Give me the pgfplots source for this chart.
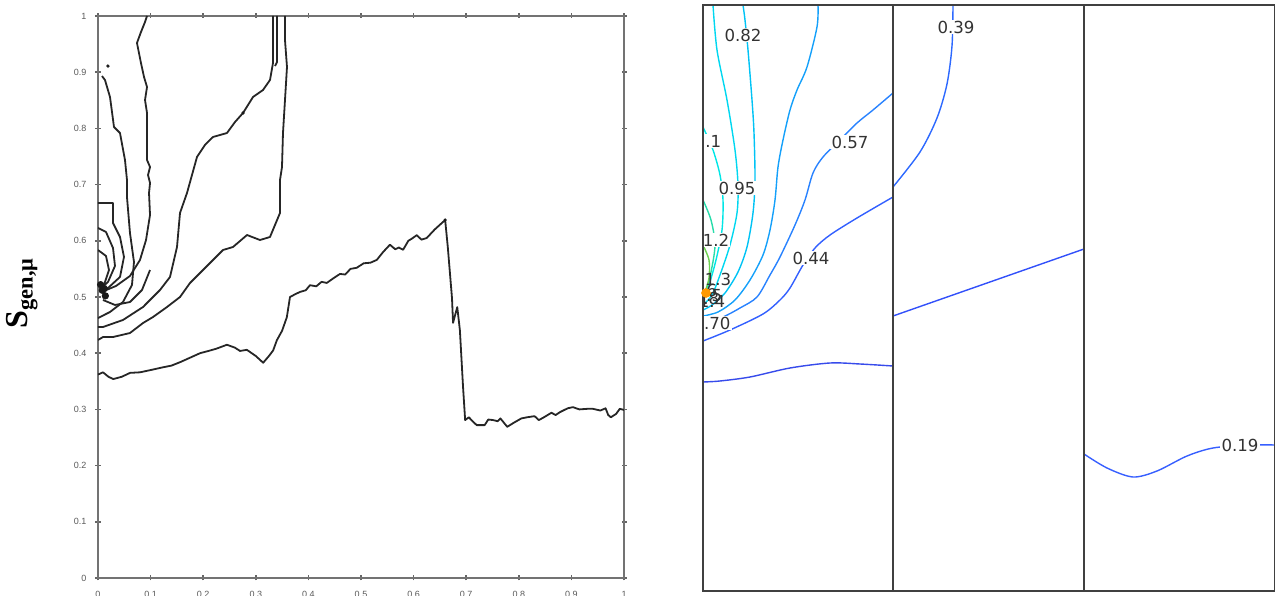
\documentclass[border=0pt]{standalone}
\usepackage{pgfplots}
\pgfplotsset{compat=1.18}
\usepackage{fontspec}
\setmainfont{Liberation Sans}
\newfontfamily\serifb{Liberation Serif}
\newfontfamily\dejavu{DejaVu Sans}
\definecolor{c32}{RGB}{55,75,235}
\definecolor{c44}{RGB}{50,95,255}
\definecolor{c57}{RGB}{40,130,255}
\definecolor{c70}{RGB}{20,160,250}
\definecolor{c82}{RGB}{0,195,245}
\definecolor{c95}{RGB}{0,215,240}
\definecolor{c11}{RGB}{0,230,230}
\definecolor{c12}{RGB}{40,220,170}
\definecolor{c13}{RGB}{110,210,80}
\definecolor{c39}{RGB}{45,105,255}
\definecolor{cb2}{RGB}{50,80,250}
\definecolor{c19}{RGB}{55,95,255}
\pgfplotsset{cv/.style={black!85, line width=0.9pt, mark=none, solid, line join=round},
  ct/.style={line width=0.7pt, mark=none, solid, smooth, tension=0.5}}
\begin{document}
\begin{tikzpicture}[x=1pt,y=1pt]
\useasboundingbox (0,0) rectangle (637.5,297.5);
\node[rotate=90, font=\serifb\bfseries\fontsize{16}{18}\selectfont, inner sep=0pt] at (11,151) {S\textsubscript{gen,μ}};
% ---------------- left panel ----------------
\begin{axis}[at={(49pt,8.5pt)}, anchor=south west, scale only axis,
  width=263pt, height=281pt, xmin=0, xmax=1, ymin=0, ymax=1,
  xtick={0,0.1,0.2,0.3,0.4,0.5,0.6,0.7,0.8,0.9,1},
  ytick={0,0.1,0.2,0.3,0.4,0.5,0.6,0.7,0.8,0.9,1},
  /pgf/number format/assume math mode=true,
  tick label style={font=\fontsize{4.5}{5}\selectfont, text=black!65},
  xticklabel style={yshift=-2pt},
  yticklabel style={xshift=-1pt},
  axis line style={line width=1.3pt, black!55},
  major tick length=2.5pt, tick align=center,
  every tick/.style={black!60, line width=0.8pt}]
% curve A
\addplot[cv] coordinates {(0,0.362)(0.0095,0.366)(0.02,0.358)(0.029,0.354)(0.045,0.358)(0.061,0.365)(0.08,0.366)(0.1,0.370)(0.124,0.375)(0.14,0.378)(0.156,0.384)(0.175,0.392)(0.194,0.400)(0.21,0.404)(0.225,0.408)(0.245,0.415)(0.26,0.410)(0.27,0.404)(0.283,0.406)(0.3,0.395)(0.314,0.383)(0.325,0.395)(0.333,0.405)(0.340,0.423)(0.35,0.440)(0.359,0.464)(0.365,0.500)(0.375,0.505)(0.384,0.509)(0.395,0.512)(0.403,0.521)(0.415,0.519)(0.425,0.527)(0.435,0.525)(0.447,0.533)(0.460,0.541)(0.470,0.540)(0.480,0.550)(0.492,0.552)(0.505,0.560)(0.518,0.561)(0.530,0.566)(0.542,0.580)(0.555,0.593)(0.565,0.585)(0.572,0.588)(0.580,0.584)(0.590,0.600)(0.597,0.604)(0.606,0.610)(0.615,0.602)(0.625,0.605)(0.640,0.620)(0.660,0.637)(0.665,0.589)(0.673,0.498)(0.675,0.454)(0.683,0.482)(0.688,0.441)(0.694,0.340)(0.698,0.281)(0.705,0.286)(0.712,0.279)(0.720,0.272)(0.735,0.272)(0.742,0.282)(0.751,0.281)(0.760,0.279)(0.765,0.284)(0.778,0.269)(0.790,0.276)(0.805,0.284)(0.816,0.286)(0.830,0.288)(0.838,0.281)(0.846,0.285)(0.862,0.294)(0.870,0.290)(0.878,0.295)(0.893,0.302)(0.903,0.304)(0.915,0.300)(0.930,0.301)(0.941,0.301)(0.955,0.298)(0.965,0.302)(0.970,0.290)(0.975,0.286)(0.985,0.292)(0.992,0.301)(1,0.299)};
% curve B
\addplot[cv] coordinates {(0,0.4235)(0.0095,0.4288)(0.0285,0.4288)(0.0608,0.4359)(0.0856,0.4537)(0.1046,0.4644)(0.1312,0.4822)(0.1559,0.5)(0.1749,0.5249)(0.1996,0.548)(0.2186,0.5658)(0.2376,0.5836)(0.2567,0.589)(0.2833,0.6103)(0.308,0.6014)(0.327,0.6068)(0.346,0.6495)(0.346,0.7082)(0.3498,0.7313)(0.3517,0.7918)(0.3555,0.8505)(0.3593,0.9093)(0.3555,0.9573)(0.3555,1.0)};
% curve C
\addplot[cv] coordinates {(0,0.4466)(0.0095,0.4466)(0.0475,0.4591)(0.0856,0.4822)(0.1179,0.5125)(0.1369,0.5356)(0.1502,0.589)(0.1559,0.6495)(0.1692,0.6851)(0.1882,0.7491)(0.2034,0.7705)(0.2186,0.7847)(0.2452,0.7918)(0.2605,0.8114)(0.2757,0.8274)(0.2947,0.8559)(0.3137,0.8683)(0.327,0.8861)(0.3327,0.9164)(0.3327,0.9573)(0.3327,1.0)};
\addplot[cv] coordinates {(0.3403,1.0)(0.3403,0.9181)(0.3365,0.911)};
% curve D
\addplot[cv] coordinates {(0,0.4626)(0.0228,0.4733)(0.0475,0.4911)(0.0646,0.5214)(0.0684,0.5623)(0.0608,0.6139)(0.0551,0.6779)(0.0551,0.7082)(0.0513,0.7438)(0.0418,0.7918)(0.0304,0.8025)(0.0228,0.8559)(0.0133,0.8861)(0.0076,0.8932)};
% curve E
\addplot[cv] coordinates {(0.0932,1.0)(0.0894,0.9893)(0.0817,0.9715)(0.0741,0.952)(0.0779,0.9342)(0.0817,0.9164)(0.0875,0.8915)(0.0932,0.8737)(0.0894,0.8505)(0.0932,0.8274)(0.0932,0.7438)(0.0989,0.7313)(0.0951,0.7171)(0.0989,0.7028)(0.097,0.6851)(0.0989,0.6459)(0.0913,0.6014)(0.0798,0.5658)(0.0608,0.5374)(0.0342,0.5196)(0.0114,0.5107)};
% curve F
\addplot[cv] coordinates {(0,0.6673)(0.0285,0.6673)(0.0285,0.6317)(0.0418,0.6068)(0.0494,0.5712)(0.0418,0.5356)(0.019,0.516)(0.0038,0.5089)};
% curves G, H, I
\addplot[cv] coordinates {(0,0.6228)(0.0152,0.6157)(0.0285,0.5872)(0.0323,0.5552)(0.019,0.5267)(0.0038,0.5142)};
\addplot[cv] coordinates {(0,0.5836)(0.0152,0.573)(0.0209,0.548)(0.0114,0.5214)};
\addplot[cv] coordinates {(0.0095,0.4947)(0.0323,0.4858)(0.0608,0.4911)(0.0837,0.5125)(0.0989,0.548)};
% dots
\addplot[black!90, only marks, mark=*, mark size=1.6pt] coordinates {(0.008,0.512)(0.014,0.502)(0.005,0.522)(0.012,0.515)};
\addplot[black!90, only marks, mark=*, mark size=0.6pt] coordinates {(0.019,0.911)(0.660,0.637)(0.2757,0.8274)};
\end{axis}
% ---------------- right panel, box 1 ----------------
\begin{axis}[at={(351.5pt,2pt)}, anchor=south west, scale only axis,
  width=95pt, height=293pt, xmin=703, xmax=893, ymin=-591, ymax=-5,
  ticks=none, axis on top, axis line style={line width=0.8pt, black!75}]
\addplot[ct, c32] coordinates {(703,-382)(720,-381)(750,-377)(790,-368)(830,-363)(860,-364)(893,-366)};
\addplot[ct, c44] coordinates {(703,-341)(730,-330)(763,-314)(780,-300)(790,-288)(803,-265)(815,-248)(830,-235)(857,-218)(893,-197)};
\addplot[ct, c57] coordinates {(893,-93)(873,-110)(857,-123)(840,-140)(823,-157)(813,-173)(805,-200)(795,-225)(780,-257)(770,-275)(757,-297)(740,-308)(723,-317)(703,-324)};
\addplot[ct, c70] coordinates {(818,-5)(817,-27)(807,-67)(797,-90)(790,-110)(783,-140)(778,-167)(775,-200)(770,-230)(763,-255)(750,-280)(735,-300)(718,-312)(703,-316)};
\addplot[ct, c82] coordinates {(743,-5)(745,-20)(748,-50)(752,-100)(754,-133)(755,-180)(753,-213)(747,-247)(738,-272)(725,-293)(712,-305)(703,-310)};
\addplot[ct, c95] coordinates {(713,-5)(717,-50)(727,-100)(735,-150)(738,-185)(737,-213)(730,-245)(720,-275)(712,-295)(703,-305)};
\addplot[ct, c11] coordinates {(703,-127)(713,-150)(720,-175)(723,-200)(722,-230)(716,-260)(709,-285)(703,-300)};
\addplot[ct, c12] coordinates {(703,-200)(711,-220)(715,-245)(711,-272)(706,-290)(703,-297)};
\addplot[ct, c13] coordinates {(703,-245)(709,-260)(709,-278)(705,-292)(703,-295)};
\addplot[only marks, mark=*, mark size=2.2pt, orange!80!yellow] coordinates {(706,-293)};
\begin{scope}[every node/.style={font=\dejavu\fontsize{8.3}{9}\selectfont, text=black!80, inner sep=0.6pt}]
\node[fill=white] at (axis cs:743,-35) {0.82};
\node[fill=white] at (axis cs:708,-141) {1.1};
\node[fill=white] at (axis cs:737,-188) {0.95};
\node[fill=white] at (axis cs:850,-142) {0.57};
\node[fill=white] at (axis cs:716,-240) {1.2};
\node[fill=white] at (axis cs:811,-258) {0.44};
\node[fill=white] at (axis cs:712,-323) {0.70};
\node at (axis cs:718,-279) {1.3};
\node at (axis cs:709,-296) {1.5};
\node at (axis cs:704,-290) {1.6};
\node at (axis cs:712,-301) {1.4};
\node at (axis cs:706,-298) {1.8};
\end{scope}
\end{axis}
% ---------------- box 2 ----------------
\begin{axis}[at={(446.5pt,2pt)}, anchor=south west, scale only axis,
  width=95.5pt, height=293pt, xmin=893, xmax=1084, ymin=-591, ymax=-5,
  ticks=none, axis on top, axis line style={line width=0.8pt, black!75}]
\addplot[ct, c39] coordinates {(953,-5)(952,-46)(947,-84)(937,-118)(920,-152)(893,-187)};
\addplot[ct, cb2] coordinates {(893,-316)(1084,-249)};
\node[fill=white, font=\dejavu\fontsize{8.3}{9}\selectfont, text=black!80, inner sep=0.6pt] at (axis cs:956,-27) {0.39};
\end{axis}
% ---------------- box 3 ----------------
\begin{axis}[at={(542pt,2pt)}, anchor=south west, scale only axis,
  width=95.5pt, height=293pt, xmin=1084, xmax=1275, ymin=-591, ymax=-5,
  ticks=none, axis on top, axis line style={line width=0.8pt, black!75}]
\addplot[ct, c19] coordinates {(1084,-454)(1107,-468)(1133,-477)(1157,-471)(1187,-456)(1213,-448)(1247,-445)(1275,-445)};
\node[fill=white, font=\dejavu\fontsize{8.3}{9}\selectfont, text=black!80, inner sep=0.6pt] at (axis cs:1240,-445) {0.19};
\end{axis}
\end{tikzpicture}
\end{document}
